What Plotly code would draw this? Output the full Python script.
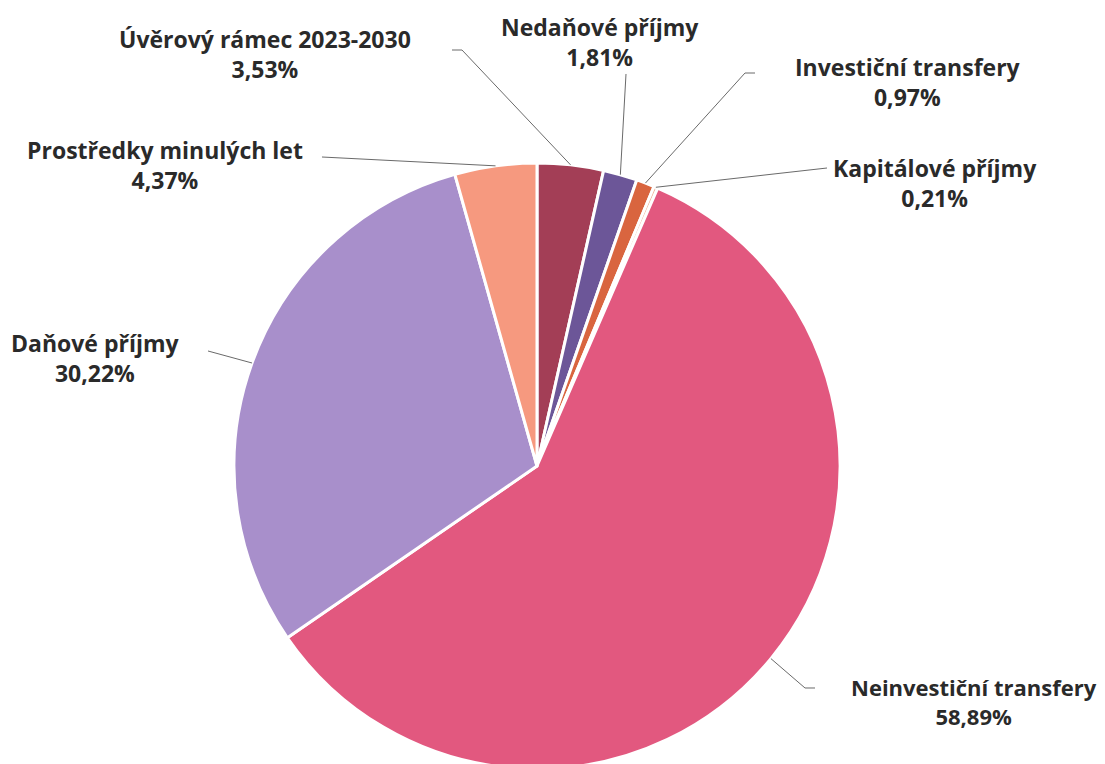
import math
import plotly.graph_objects as go

# ---- data ----
categories = ["Úvěrový rámec 2023-2030", "Nedaňové příjmy", "Investiční transfery",
              "Kapitálové příjmy", "Neinvestiční transfery", "Daňové příjmy",
              "Prostředky minulých let"]
shares = [3.53, 1.81, 0.97, 0.21, 58.89, 30.22, 4.37]

# ---- style ----
colors = ["#A33E56", "#6C5698", "#D9653F", "#F0B49C", "#E2587F", "#A88FCB", "#F6997F"]
W, H = 1105, 772   # canvas slightly taller than the 764 window so the pie bottom is cropped
cx, cy, R = 537, 466, 303
# label block centres (px) and leader start points (px) with optional elbow
label_pos = [(265, 54), (600, 42), (908, 82), (935, 183), (974, 701), (95, 358), (165, 165)]
label_size = [23, 23, 23, 23, 22, 23, 23]
leader_start = [[(452, 50), (462, 50)], [(626, 74)], [(755, 73), (745, 73)],
                [(827, 168)], [(815, 688), (805, 688)], [(208, 351)], [(322, 157)]]
font_family = "Open Sans"
text_color = "#2a2a2a"

fig = go.Figure(go.Pie(
    labels=categories, values=shares, marker=dict(colors=colors, line=dict(color="white", width=3)),
    sort=False, direction="clockwise", rotation=0, textinfo="none", showlegend=False,
    domain=dict(x=[(cx - R) / W, (cx + R) / W], y=[(H - cy - R) / H, (H - cy + R) / H]),
))

def px2paper(x, y):
    return x / W, 1 - y / H

total = sum(shares)
cum = 0.0
shapes = []
annotations = []
for i, (cat, v) in enumerate(zip(categories, shares)):
    mid = (cum + v / 2) / total * 2 * math.pi
    cum += v
    ex = cx + R * 1.0 * math.sin(mid)
    ey = cy - R * 1.0 * math.cos(mid)
    pts = leader_start[i] + [(ex, ey)]
    path = "M " + " L ".join(f"{px2paper(*p)[0]:.5f},{px2paper(*p)[1]:.5f}" for p in pts)
    shapes.append(dict(type="path", xref="paper", yref="paper", path=path,
                       line=dict(color="#6a6a6a", width=1)))
    lx, ly = px2paper(*label_pos[i])
    pct = f"{v:.2f}".replace(".", ",") + "%"
    annotations.append(dict(x=lx, y=ly, xref="paper", yref="paper", showarrow=False,
                            text=f"{cat}<br>{pct}", align="center",
                            xanchor="center", yanchor="middle",
                            font=dict(family=font_family, size=label_size[i],
                                      color=text_color, weight="bold")))

fig.update_layout(width=W, height=H, margin=dict(l=0, r=0, t=0, b=0),
                  paper_bgcolor="white", plot_bgcolor="white",
                  shapes=shapes, annotations=annotations)
fig.write_html("out.html", config={"displayModeBar": False},
               post_script="document.body.style.margin='0';document.body.style.overflow='hidden';")
